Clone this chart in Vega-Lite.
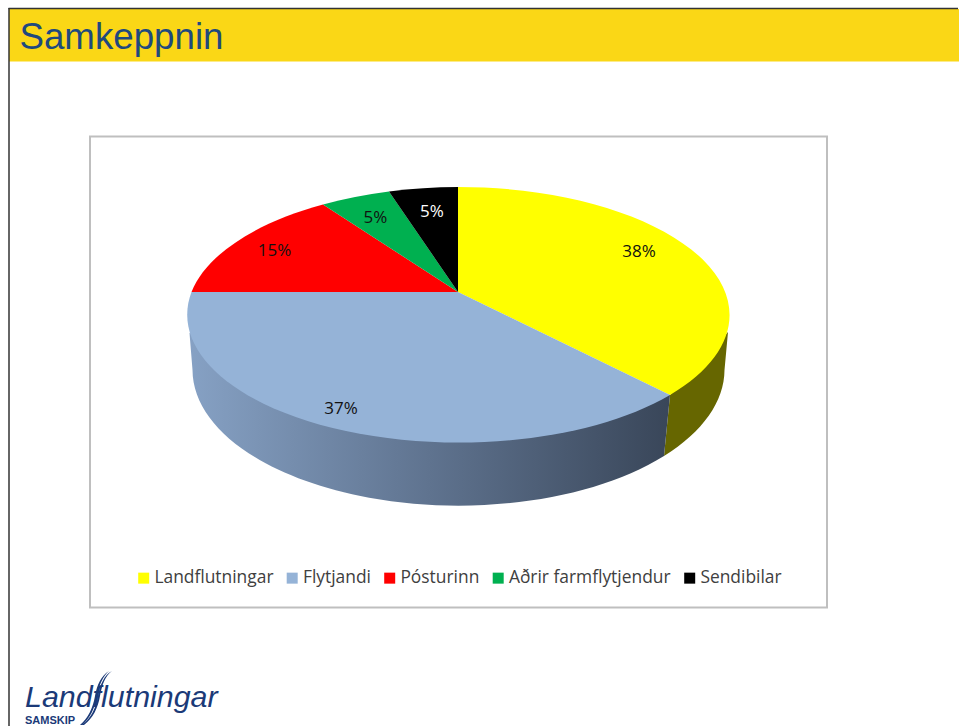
{"$schema":"https://vega.github.io/schema/vega-lite/v6.json","width":959,"height":727,"padding":0,"autosize":{"type":"fit","contains":"padding"},"background":"white","config":{"view":{"stroke":null},"axis":{"disable":true}},
"data":{"values":[{"slice":"Landflutningar","order":1,"share":0.38},{"slice":"Flytjandi","order":2,"share":0.37},{"slice":"Pósturinn","order":3,"share":0.15},{"slice":"Aðrir farmflytjendur","order":4,"share":0.05},{"slice":"Sendibilar","order":5,"share":0.05}]},
"layer":[
{"data":{"values":[{"part":"band"}]},"mark":{"type":"rect","fill":"#FAD716"},"encoding":{"x":{"datum":9,"type":"quantitative","scale":{"domain":[0,959],"nice":false,"zero":false}},"x2":{"datum":959},"y":{"datum":9,"type":"quantitative","scale":{"domain":[727,0],"nice":false,"zero":false}},"y2":{"datum":61.5}}},
{"data":{"values":[{"part":"top"}]},"mark":{"type":"rule","stroke":"#333333","strokeWidth":1.5},"encoding":{"x":{"datum":8.5,"type":"quantitative"},"x2":{"datum":958},"y":{"datum":8.5,"type":"quantitative"}}},
{"data":{"values":[{"part":"left"}]},"mark":{"type":"rule","stroke":"#333333","strokeWidth":1.5},"encoding":{"x":{"datum":9,"type":"quantitative"},"y":{"datum":8,"type":"quantitative"},"y2":{"datum":726}}},
{"data":{"values":[{"part":"frame"}]},"mark":{"type":"rect","fill":"white","stroke":"#BFBFBF","strokeWidth":2},"encoding":{"x":{"datum":90,"type":"quantitative"},"x2":{"datum":827},"y":{"datum":136.5,"type":"quantitative"},"y2":{"datum":607.5}}},
{"data":{"values":[{"label":"Samkeppnin"}]},"mark":{"type":"text","font":"Liberation Sans","fontSize":36.7,"align":"left","baseline":"alphabetic","fill":"#1F497D"},"encoding":{"x":{"datum":19.5,"type":"quantitative"},"y":{"datum":49,"type":"quantitative"},"text":{"field":"label"}}},
{"transform":[{"filter":"datum.slice === 'Landflutningar'"}],"mark":{"type":"point","filled":true,"opacity":1,"fill":"#666600"},"encoding":{"x":{"datum":458.5,"type":"quantitative"},"y":{"datum":315,"type":"quantitative"},"size":{"value":4},"shape":{"value":"M211.5,80 L269.5,17 L266,55 A266,136 0 0 1 205.5,141 Z"}}},
{"transform":[{"filter":"datum.slice === 'Flytjandi'"}],"mark":{"type":"point","filled":true,"opacity":1,"fill":{"gradient":"linear","x1":0,"y1":0,"x2":1,"y2":0,"stops":[{"offset":0,"color":"#86A1C4"},{"offset":0.5,"color":"#5F738F"},{"offset":1,"color":"#394659"}]}},"encoding":{"x":{"datum":458.5,"type":"quantitative"},"y":{"datum":315,"type":"quantitative"},"size":{"value":4},"shape":{"value":"M211.5,80 L-269,18 L-266,55 A266,136 0 0 0 205.5,141 Z"}}},
{"mark":{"type":"point","filled":true,"opacity":1},"encoding":{"x":{"datum":458.5,"type":"quantitative"},"y":{"datum":315,"type":"quantitative"},"size":{"value":4},
"shape":{"field":"order","type":"nominal","legend":null,"scale":{"domain":[1,2,3,4,5],"range":["M-0.5,-23 L-0.5,-128 A271.5,128 0 0 1 211.5,80 Z","M-0.5,-23 L211.5,80 A271.5,128 0 0 1 -267,-23 Z","M-0.5,-23 L-267,-23 A271.5,128 0 0 1 -135.5,-110.5 Z","M-0.5,-23 L-135.5,-110.5 A271.5,128 0 0 1 -69.5,-123.5 Z","M-0.5,-23 L-69.5,-123.5 A271.5,128 0 0 1 -0.5,-128 Z"]}},
"color":{"field":"slice","type":"nominal","sort":null,"scale":{"domain":["Landflutningar","Flytjandi","Pósturinn","Aðrir farmflytjendur","Sendibilar"],"range":["#FFFF00","#95B3D7","#FF0000","#00B050","#000000"]},"legend":{"title":null,"orient":"none","legendX":135,"legendY":569,"direction":"horizontal","columns":5,"symbolType":"square","symbolSize":121,"symbolStrokeWidth":0,"labelFont":"Open Sans","labelFontSize":17.4,"labelColor":"#404040","labelOffset":2,"columnPadding":9.5,"labelLimit":300}}}},
{"transform":[{"filter":"datum.slice === 'Landflutningar'"}],"mark":{"type":"text","font":"Open Sans","fontSize":17,"fill":"#111111"},"encoding":{"x":{"datum":639,"type":"quantitative"},"y":{"datum":252,"type":"quantitative"},"text":{"field":"share","type":"quantitative","format":".0%"}}},
{"transform":[{"filter":"datum.slice === 'Flytjandi'"}],"mark":{"type":"text","font":"Open Sans","fontSize":17,"fill":"#111111"},"encoding":{"x":{"datum":341,"type":"quantitative"},"y":{"datum":409,"type":"quantitative"},"text":{"field":"share","type":"quantitative","format":".0%"}}},
{"transform":[{"filter":"datum.slice === 'Pósturinn'"}],"mark":{"type":"text","font":"Open Sans","fontSize":17,"fill":"#111111"},"encoding":{"x":{"datum":274.5,"type":"quantitative"},"y":{"datum":251,"type":"quantitative"},"text":{"field":"share","type":"quantitative","format":".0%"}}},
{"transform":[{"filter":"datum.slice === 'Aðrir farmflytjendur'"}],"mark":{"type":"text","font":"Open Sans","fontSize":17,"fill":"#111111"},"encoding":{"x":{"datum":375.5,"type":"quantitative"},"y":{"datum":218,"type":"quantitative"},"text":{"field":"share","type":"quantitative","format":".0%"}}},
{"transform":[{"filter":"datum.slice === 'Sendibilar'"}],"mark":{"type":"text","font":"Open Sans","fontSize":17,"fill":"white"},"encoding":{"x":{"datum":432,"type":"quantitative"},"y":{"datum":212,"type":"quantitative"},"text":{"field":"share","type":"quantitative","format":".0%"}}},
{"data":{"values":[{"label":"Landflutningar"}]},"mark":{"type":"text","font":"Liberation Sans","fontStyle":"italic","fontSize":30.4,"align":"left","baseline":"alphabetic","fill":"#1B3A78"},"encoding":{"x":{"datum":25,"type":"quantitative"},"y":{"datum":707,"type":"quantitative"},"text":{"field":"label"}}},
{"data":{"values":[{"label":"SAMSKIP"}]},"mark":{"type":"text","font":"Liberation Sans","fontWeight":"bold","fontSize":11,"align":"left","baseline":"alphabetic","fill":"#1B3A78"},"encoding":{"x":{"datum":25,"type":"quantitative"},"y":{"datum":724,"type":"quantitative"},"text":{"field":"label"}}},
{"data":{"values":[{"part":"logo swoosh"}]},"mark":{"type":"point","filled":true,"opacity":1,"fill":"#1B3A78"},"encoding":{"x":{"datum":95,"type":"quantitative"},"y":{"datum":698,"type":"quantitative"},"size":{"value":4},"shape":{"value":"M17,-27 C9,-23 5,-13 3,-2 C1,10 -4,20 -13,27 L-11,27 C-2,20 3,10 5,-2 C7,-13 10,-22 17,-27 Z M14,-27 C6,-22 2,-13 0,-2 C-2,10 -7,20 -15,27 L-13,27 C-5,20 0,10 2,-2 C4,-13 8,-22 14,-27 Z"}}}
]}
